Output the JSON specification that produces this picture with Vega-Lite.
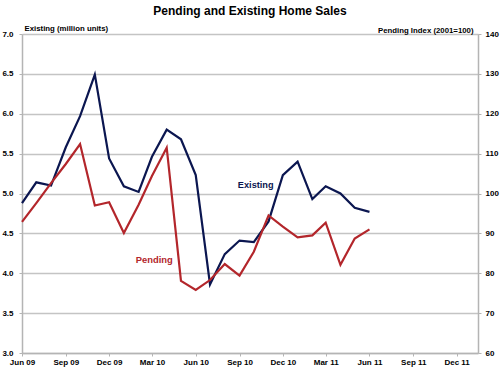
{
  "$schema": "https://vega.github.io/schema/vega-lite/v6.json",
  "width": 456,
  "height": 319,
  "autosize": {"type": "none"},
  "padding": {"left": 22, "top": 34, "right": 22, "bottom": 18},
  "background": "white",
  "config": {
    "view": {"stroke": null},
    "font": "Liberation Sans",
    "axis": {
      "labelFont": "Liberation Sans",
      "labelFontWeight": "bold",
      "labelFontSize": 8,
      "labelColor": "#000000",
      "labelOverlap": false,
      "labelFlush": false,
      "titleFont": "Liberation Sans",
      "titleFontWeight": "bold",
      "titleFontSize": 7.8,
      "titleColor": "#000000",
      "domainColor": "#b4b4b4",
      "domainWidth": 1.5,
      "tickColor": "#b4b4b4",
      "tickWidth": 1,
      "tickSize": 3
    }
  },
  "title": {
    "text": "Pending and Existing Home Sales",
    "font": "Liberation Sans",
    "fontSize": 12,
    "fontWeight": "bold",
    "color": "#000000",
    "anchor": "middle",
    "frame": "group",
    "offset": 6
  },
  "data": {
    "values": [
      {"date": "2009-06-01", "existing": 4.88, "pending": 92.9},
      {"date": "2009-07-01", "existing": 5.14, "pending": 97.6},
      {"date": "2009-08-01", "existing": 5.10, "pending": 102.6},
      {"date": "2009-09-01", "existing": 5.58, "pending": 107.4},
      {"date": "2009-10-01", "existing": 5.97, "pending": 112.4},
      {"date": "2009-11-01", "existing": 6.49, "pending": 97.0},
      {"date": "2009-12-01", "existing": 5.44, "pending": 97.8},
      {"date": "2010-01-01", "existing": 5.09, "pending": 90.1},
      {"date": "2010-02-01", "existing": 5.02, "pending": 97.2},
      {"date": "2010-03-01", "existing": 5.46, "pending": 104.4},
      {"date": "2010-04-01", "existing": 5.80, "pending": 111.5},
      {"date": "2010-05-01", "existing": 5.68, "pending": 78.1},
      {"date": "2010-06-01", "existing": 5.23, "pending": 75.8},
      {"date": "2010-07-01", "existing": 3.86, "pending": 78.3},
      {"date": "2010-08-01", "existing": 4.24, "pending": 82.3},
      {"date": "2010-09-01", "existing": 4.41, "pending": 79.4},
      {"date": "2010-10-01", "existing": 4.39, "pending": 85.4},
      {"date": "2010-11-01", "existing": 4.65, "pending": 94.5},
      {"date": "2010-12-01", "existing": 5.23, "pending": 91.7},
      {"date": "2011-01-01", "existing": 5.40, "pending": 89.0},
      {"date": "2011-02-01", "existing": 4.93, "pending": 89.5},
      {"date": "2011-03-01", "existing": 5.09, "pending": 92.7},
      {"date": "2011-04-01", "existing": 5.00, "pending": 82.1},
      {"date": "2011-05-01", "existing": 4.82, "pending": 88.7},
      {"date": "2011-06-01", "existing": 4.77, "pending": 91.0}
    ]
  },
  "encoding": {
    "x": {
      "field": "date",
      "type": "temporal",
      "scale": {
        "type": "utc",
        "domain": [
          {"year": 2009, "month": 6, "date": 1, "utc": true},
          {"year": 2012, "month": 1, "date": 15, "utc": true}
        ]
      },
      "axis": {
        "title": null,
        "grid": false,
        "format": "%b %y",
        "labelPadding": 2,
        "labelAngle": 0,
        "labelFlush": false,
        "values": [
          {"year": 2009, "month": 6, "date": 1, "utc": true},
          {"year": 2009, "month": 9, "date": 1, "utc": true},
          {"year": 2009, "month": 12, "date": 1, "utc": true},
          {"year": 2010, "month": 3, "date": 1, "utc": true},
          {"year": 2010, "month": 6, "date": 1, "utc": true},
          {"year": 2010, "month": 9, "date": 1, "utc": true},
          {"year": 2010, "month": 12, "date": 1, "utc": true},
          {"year": 2011, "month": 3, "date": 1, "utc": true},
          {"year": 2011, "month": 6, "date": 1, "utc": true},
          {"year": 2011, "month": 9, "date": 1, "utc": true},
          {"year": 2011, "month": 12, "date": 1, "utc": true}
        ]
      }
    }
  },
  "layer": [
    {
      "layer": [
        {
          "mark": {"type": "line", "color": "#0b1650", "strokeWidth": 2.2},
          "encoding": {
            "y": {
              "field": "existing",
              "type": "quantitative",
              "scale": {"domain": [3, 7], "nice": false, "zero": false},
              "axis": {
                "orient": "left",
                "values": [3, 3.5, 4, 4.5, 5, 5.5, 6, 6.5, 7],
                "format": ".1f",
                "grid": true,
                "gridColor": "#c4c4c4",
                "gridWidth": 1.5,
                "labelPadding": 6,
                "title": "Existing (million units)",
                "titleAngle": 0,
                "titleAlign": "left",
                "titleBaseline": "alphabetic",
                "titleX": 2,
                "titleY": -4
              }
            }
          }
        },
        {
          "data": {"values": [{"date": "2010-10-05", "existing": 5.07, "label": "Existing"}]},
          "mark": {"type": "text", "color": "#0b1650", "font": "Liberation Sans", "fontWeight": "bold", "fontSize": 9.2, "baseline": "alphabetic", "align": "center"},
          "encoding": {
            "y": {
              "field": "existing",
              "type": "quantitative",
              "scale": {"domain": [3, 7], "nice": false, "zero": false},
              "axis": {
                "orient": "left",
                "values": [3, 3.5, 4, 4.5, 5, 5.5, 6, 6.5, 7],
                "format": ".1f",
                "grid": true,
                "gridColor": "#c4c4c4",
                "gridWidth": 1.5,
                "labelPadding": 6,
                "title": "Existing (million units)",
                "titleAngle": 0,
                "titleAlign": "left",
                "titleBaseline": "alphabetic",
                "titleX": 2,
                "titleY": -4
              }
            },
            "text": {"field": "label"}
          }
        }
      ]
    },
    {
      "layer": [
        {
          "mark": {"type": "line", "color": "#b3262b", "strokeWidth": 2.2},
          "encoding": {
            "y": {
              "field": "pending",
              "type": "quantitative",
              "scale": {"domain": [60, 140], "nice": false, "zero": false},
              "axis": {
                "orient": "right",
                "values": [60, 70, 80, 90, 100, 110, 120, 130, 140],
                "grid": false,
                "labelPadding": 4,
                "title": "Pending Index (2001=100)",
                "titleAngle": 0,
                "titleAlign": "right",
                "titleBaseline": "alphabetic",
                "titleX": -5,
                "titleY": -2
              }
            }
          }
        },
        {
          "data": {"values": [{"date": "2010-03-06", "pending": 82.5, "label": "Pending"}]},
          "mark": {"type": "text", "color": "#b3262b", "font": "Liberation Sans", "fontWeight": "bold", "fontSize": 9.4, "baseline": "alphabetic", "align": "center"},
          "encoding": {
            "y": {
              "field": "pending",
              "type": "quantitative",
              "scale": {"domain": [60, 140], "nice": false, "zero": false},
              "axis": {
                "orient": "right",
                "values": [60, 70, 80, 90, 100, 110, 120, 130, 140],
                "grid": false,
                "labelPadding": 4,
                "title": "Pending Index (2001=100)",
                "titleAngle": 0,
                "titleAlign": "right",
                "titleBaseline": "alphabetic",
                "titleX": -5,
                "titleY": -2
              }
            },
            "text": {"field": "label"}
          }
        }
      ]
    }
  ],
  "resolve": {"scale": {"y": "independent"}}
}
